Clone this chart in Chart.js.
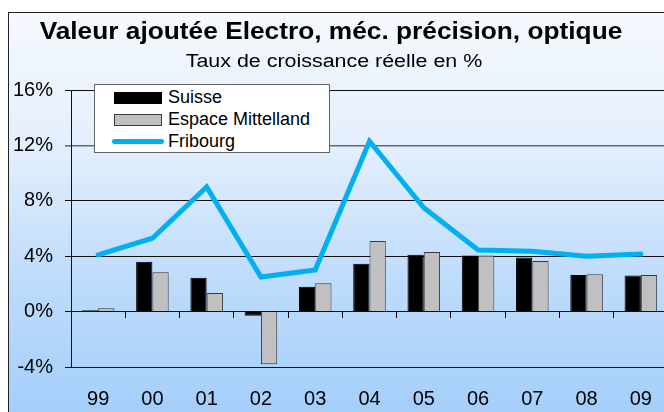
<!DOCTYPE html>
<html>
<head>
<meta charset="utf-8">
<script src="https://cdn.jsdelivr.net/npm/chart.js@4/dist/chart.umd.min.js"></script>
<style>
  html, body { margin: 0; padding: 0; width: 664px; height: 412px; overflow: hidden; background: #fff; }
  #frame { position: absolute; left: 8px; top: 12px; width: 700px; height: 440px; border: 1px solid #222;
           background: linear-gradient(to bottom, #f6f9fe 0%, #e4effd 30%, #bfdcfb 60%, #9ccbfa 100%); }
  #chart { position: absolute; left: 0; top: 0; }
  .t { position: absolute; width: 664px; text-align: center; font-family: "Liberation Sans", Arial, sans-serif; color: #000; white-space: nowrap; transform-origin: 50% 50%; }
  #title { left: -1px; top: 17px; font-size: 24px; line-height: 28px; font-weight: bold; transform: scaleX(1.095); }
  #subtitle { left: 2px; top: 50px; font-size: 18px; line-height: 22px; transform: scaleX(1.19); }
  #legend { position: absolute; left: 94px; top: 84px; width: 234px; height: 67px; background: #fff; border: 1px solid #666;
            font-family: "Liberation Sans", Arial, sans-serif; font-size: 18px; color: #000; }
  .li { position: absolute; left: 19px; height: 22px; line-height: 22px; white-space: nowrap; }
  .sw { position: absolute; left: 0; width: 48px; }
  .lt { position: absolute; left: 54px; top: 0; }
</style>
</head>
<body>
<div id="frame"></div>
<canvas id="chart" width="680" height="412" style="width:680px;height:412px"></canvas>
<div class="t" id="title"></div>
<div class="t" id="subtitle"></div>
<div id="legend"></div>
<script>
const titleText = "Valeur ajoutée Electro, méc. précision, optique";
const subtitleText = "Taux de croissance réelle en %";
const categories = ["99", "00", "01", "02", "03", "04", "05", "06", "07", "08", "09"];
const suisse = [0.1, 3.6, 2.45, -0.3, 1.8, 3.45, 4.1, 4.05, 3.9, 2.65, 2.6];
const espaceMittelland = [0.25, 2.85, 1.35, -3.8, 2.05, 5.1, 4.3, 4.05, 3.65, 2.7, 2.65];
const fribourg = [4.1, 5.3, 9.0, 2.5, 3.0, 12.3, 7.5, 4.45, 4.35, 4.0, 4.15];
const seriesNames = ["Suisse", "Espace Mittelland", "Fribourg"];
const yTicks = [-4, 0, 4, 8, 12, 16];

document.getElementById('title').textContent = titleText;
document.getElementById('subtitle').textContent = subtitleText;

const FONT = '"Liberation Sans", Arial, sans-serif';
const BLUE = '#00b0f0';

const datasets = [
  { type: 'bar', label: seriesNames[0], data: suisse, backgroundColor: '#000000', borderColor: '#000000', borderWidth: 1, order: 1 },
  { type: 'bar', label: seriesNames[1], data: espaceMittelland, backgroundColor: '#c0c0c0', borderColor: '#3a3a3a', borderWidth: 1, order: 1 },
  { type: 'line', label: seriesNames[2], data: fribourg, borderColor: BLUE, backgroundColor: BLUE, borderWidth: 5, pointRadius: 0, tension: 0, order: 0, borderCapStyle: 'round', borderJoinStyle: 'miter' }
];

// HTML legend built from the datasets
const legend = document.getElementById('legend');
datasets.forEach((ds, i) => {
  const row = document.createElement('div');
  row.className = 'li';
  row.style.top = (1 + i * 22) + 'px';
  const sw = document.createElement('div');
  sw.className = 'sw';
  if (ds.type === 'bar') {
    sw.style.top = '6px'; sw.style.height = '10px';
    sw.style.background = ds.backgroundColor; sw.style.border = '1px solid ' + ds.borderColor;
    sw.style.width = '46px';
  } else {
    sw.style.top = '9px'; sw.style.height = '5px'; sw.style.left = '-2px'; sw.style.width = '52px';
    sw.style.background = ds.borderColor; sw.style.borderRadius = '3px';
  }
  const lt = document.createElement('span');
  lt.className = 'lt';
  lt.textContent = ds.label;
  row.appendChild(sw); row.appendChild(lt);
  legend.appendChild(row);
});

new Chart(document.getElementById('chart'), {
  data: { labels: categories, datasets: datasets },
  options: {
    responsive: false,
    animation: false,
    events: [],
    layout: { padding: { left: 0, top: 90, right: 12, bottom: 0 } },
    datasets: { bar: { categoryPercentage: 0.6, barPercentage: 1.0 } },
    plugins: { legend: { display: false }, title: { display: false }, tooltip: { enabled: false } },
    scales: {
      x: {
        type: 'category',
        position: 'bottom',
        offset: true,
        grid: { display: false, drawTicks: false },
        border: { display: false },
        ticks: { color: '#000', font: { family: FONT, size: 20 }, padding: 20, maxRotation: 0, autoSkip: false },
        afterFit: (s) => { s.height = 45; }
      },
      x2: {
        type: 'category',
        labels: categories,
        position: { y: 0 },
        offset: true,
        grid: { offset: true, drawOnChartArea: false, drawTicks: true, tickLength: 6, color: '#000', lineWidth: 1 },
        border: { display: false },
        ticks: { display: false }
      },
      y: {
        min: -4, max: 16,
        afterBuildTicks: (s) => { s.ticks = yTicks.map(v => ({ value: v })); },
        grid: {
          color: (c) => (c.tick && c.tick.value === 12) ? '#6a6a6a' : '#111',
          lineWidth: (c) => (c.tick && c.tick.value === 12) ? 1.6 : 1,
          tickLength: 6, drawTicks: true
        },
        border: { display: true, color: '#111', width: 1 },
        ticks: { color: '#000', font: { family: FONT, size: 20 }, padding: 12, callback: (v) => v + '%' },
        afterFit: (s) => { s.width = 71; }
      }
    }
  }
});
</script>
</body>
</html>
